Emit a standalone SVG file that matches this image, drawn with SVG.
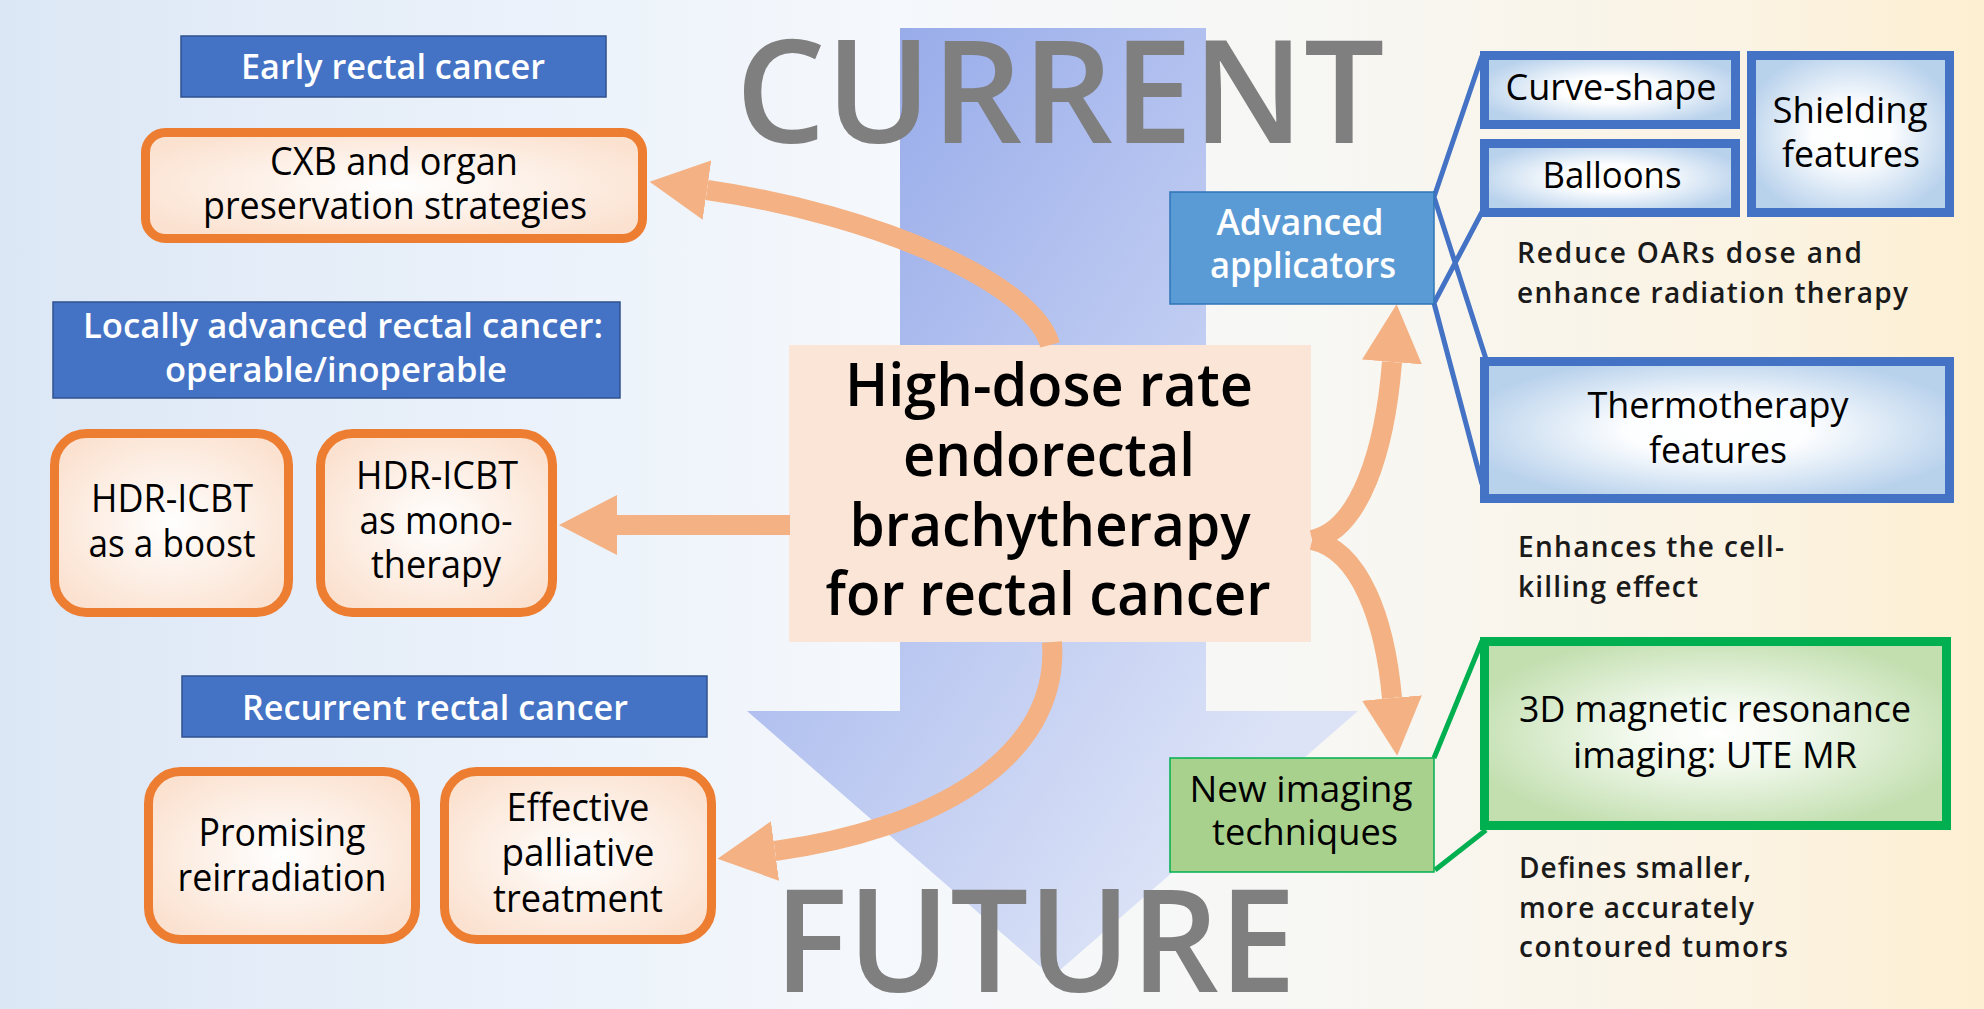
<svg xmlns="http://www.w3.org/2000/svg" width="1984" height="1009" viewBox="0 0 1984 1009">
<defs>
<linearGradient id="bg" x1="0" y1="0" x2="1" y2="0">
<stop offset="0" stop-color="#DCE7F5"/>
<stop offset="0.25" stop-color="#EAF1FA"/>
<stop offset="0.45" stop-color="#F5F8FC"/>
<stop offset="0.66" stop-color="#F7F7F4"/>
<stop offset="0.88" stop-color="#FBF3E3"/>
<stop offset="1" stop-color="#FDEFD1"/>
</linearGradient>
<linearGradient id="bigArrow" gradientUnits="userSpaceOnUse" x1="880" y1="30" x2="1480" y2="430">
<stop offset="0" stop-color="#97ABEA"/>
<stop offset="1" stop-color="#DCE3F7"/>
</linearGradient>
<radialGradient id="orangeFill" cx="0.5" cy="0.5" r="0.6">
<stop offset="0" stop-color="#FFFFFF"/>
<stop offset="1" stop-color="#FBE1CF"/>
</radialGradient>
<radialGradient id="blueFill" cx="0.5" cy="0.5" r="0.55">
<stop offset="0" stop-color="#FFFFFF"/>
<stop offset="0.35" stop-color="#FDFEFF"/>
<stop offset="1" stop-color="#B9D2EC"/>
</radialGradient>
<radialGradient id="greenFill" cx="0.5" cy="0.5" r="0.55">
<stop offset="0" stop-color="#FFFFFF"/>
<stop offset="0.3" stop-color="#F4FAF0"/>
<stop offset="1" stop-color="#C3DFB0"/>
</radialGradient>
<marker id="ah" viewBox="0 0 58 60" refX="0" refY="30" markerWidth="58" markerHeight="60" markerUnits="userSpaceOnUse" orient="auto">
<path d="M0,0 L58,30 L0,60 Z" fill="#F4B183"/>
</marker>
<style>
text{font-family:"Open Sans","Noto Sans","DejaVu Sans",sans-serif;}
.lbl{fill:#4472C4;stroke:#2F528F;stroke-width:1.5;}
.lblt{fill:#FFFFFF;font-size:35px;font-weight:600;text-anchor:middle;}
.obox{fill:url(#orangeFill);stroke:#ED7D31;stroke-width:9;}
.ot{fill:#000;font-size:38px;text-anchor:middle;}
.bbox{fill:url(#blueFill);stroke:#4472C4;stroke-width:9;}
.bt{fill:#000;font-size:37px;text-anchor:middle;}
.gbox{fill:url(#greenFill);stroke:#00B050;stroke-width:9;}
.ct{fill:#000;font-size:60px;font-weight:600;text-anchor:middle;}
.big{fill:#7F7F7F;font-size:144px;font-weight:600;text-anchor:middle;}
.note{fill:#1A1A1A;font-size:28px;font-weight:600;}
.arr{fill:none;stroke:#F4B183;stroke-width:20;marker-end:url(#ah);}
.bl{stroke:#4472C4;stroke-width:5;fill:none;}
.gl{stroke:#00B050;stroke-width:5;fill:none;}
</style>
</defs>

<rect x="0" y="0" width="1984" height="1009" fill="url(#bg)"/>

<g id="timeline">
<polygon points="900,28 1206,28 1206,711 1358,711 1052,977 747,711 900,711" fill="url(#bigArrow)"/>
<text class="big" x="1060" y="143" textLength="649" lengthAdjust="spacingAndGlyphs">CURRENT</text>
<text class="big" x="1035" y="992" textLength="522" lengthAdjust="spacingAndGlyphs">FUTURE</text>
</g>

<g id="center">
<rect x="789" y="345" width="522" height="297" fill="#FBE5D6"/>
<text class="ct" x="1049" y="406" textLength="408" lengthAdjust="spacingAndGlyphs">High-dose rate</text>
<text class="ct" x="1049" y="476" textLength="292" lengthAdjust="spacingAndGlyphs">endorectal</text>
<text class="ct" x="1050" y="546" textLength="401" lengthAdjust="spacingAndGlyphs">brachytherapy</text>
<text class="ct" x="1048" y="615" textLength="445" lengthAdjust="spacingAndGlyphs">for rectal cancer</text>
</g>

<g id="connectors">
<path class="arr" d="M1050,345 C1035,285 880,215 707,190"/>
<path class="arr" d="M790,525 L617,525"/>
<path class="arr" d="M1052,642 C1060,760 930,830 775,851"/>
<path class="arr" d="M1312,540 C1360,530 1385,450 1392,362"/>
<path class="arr" d="M1312,540 C1360,550 1385,620 1392,698"/>
<path class="bl" d="M1434,197 L1482,56 M1434,197 L1486,359 M1434,303 L1482,212 M1434,303 L1482,484"/>
<path class="gl" d="M1434,758 L1482,641 M1435,870 L1486,830"/>
</g>

<g id="early-label">
<rect class="lbl" x="181" y="36" width="425" height="61"/>
<text class="lblt" x="393" y="79" textLength="304" lengthAdjust="spacingAndGlyphs">Early rectal cancer</text>
</g>
<g id="cxb">
<rect class="obox" x="145.5" y="132.5" width="497" height="106" rx="20"/>
<text class="ot" x="394" y="175" textLength="248" lengthAdjust="spacingAndGlyphs">CXB and organ</text>
<text class="ot" x="395" y="219" textLength="384" lengthAdjust="spacingAndGlyphs">preservation strategies</text>
</g>
<g id="locally-label">
<rect class="lbl" x="53" y="302" width="567" height="96"/>
<text class="lblt" x="343" y="338" textLength="520" lengthAdjust="spacingAndGlyphs">Locally advanced rectal cancer:</text>
<text class="lblt" x="336" y="382" textLength="342" lengthAdjust="spacingAndGlyphs">operable/inoperable</text>
</g>
<g id="hdr-boost">
<rect class="obox" x="54.5" y="433.5" width="234" height="179" rx="32"/>
<text class="ot" x="172" y="512" textLength="162" lengthAdjust="spacingAndGlyphs">HDR-ICBT</text>
<text class="ot" x="172" y="557" textLength="167" lengthAdjust="spacingAndGlyphs">as a boost</text>
</g>
<g id="hdr-mono">
<rect class="obox" x="320.5" y="433.5" width="232" height="179" rx="32"/>
<text class="ot" x="437" y="489" textLength="162" lengthAdjust="spacingAndGlyphs">HDR-ICBT</text>
<text class="ot" x="436" y="534" textLength="153" lengthAdjust="spacingAndGlyphs">as mono-</text>
<text class="ot" x="436" y="578" textLength="130" lengthAdjust="spacingAndGlyphs">therapy</text>
</g>
<g id="recurrent-label">
<rect class="lbl" x="182" y="676" width="525" height="61"/>
<text class="lblt" x="435" y="720" textLength="386" lengthAdjust="spacingAndGlyphs">Recurrent rectal cancer</text>
</g>
<g id="promising">
<rect class="obox" x="148.5" y="771.5" width="267" height="168" rx="32"/>
<text class="ot" x="282" y="846" textLength="167" lengthAdjust="spacingAndGlyphs">Promising</text>
<text class="ot" x="282" y="891" textLength="209" lengthAdjust="spacingAndGlyphs">reirradiation</text>
</g>
<g id="palliative">
<rect class="obox" x="444.5" y="771.5" width="267" height="168" rx="32"/>
<text class="ot" x="578" y="821" textLength="143" lengthAdjust="spacingAndGlyphs">Effective</text>
<text class="ot" x="578" y="866" textLength="153" lengthAdjust="spacingAndGlyphs">palliative</text>
<text class="ot" x="578" y="912" textLength="170" lengthAdjust="spacingAndGlyphs">treatment</text>
</g>

<g id="advanced-applicators">
<rect x="1170" y="192" width="264" height="112" fill="#5B9BD5" stroke="#2E75B6" stroke-width="1.5"/>
<text class="lblt" x="1300" y="235" textLength="167" lengthAdjust="spacingAndGlyphs" style="font-size:36px">Advanced</text>
<text class="lblt" x="1303" y="278" textLength="186" lengthAdjust="spacingAndGlyphs" style="font-size:36px">applicators</text>
</g>
<g id="curve-shape">
<rect class="bbox" x="1484.5" y="55.5" width="251" height="69"/>
<text class="bt" x="1611" y="100" textLength="211" lengthAdjust="spacingAndGlyphs">Curve-shape</text>
</g>
<g id="balloons">
<rect class="bbox" x="1484.5" y="143.5" width="251" height="69"/>
<text class="bt" x="1612" y="188" textLength="139" lengthAdjust="spacingAndGlyphs">Balloons</text>
</g>
<g id="shielding">
<rect class="bbox" x="1751.5" y="55.5" width="198" height="157"/>
<text class="bt" x="1850" y="123" textLength="155" lengthAdjust="spacingAndGlyphs">Shielding</text>
<text class="bt" x="1851" y="167" textLength="138" lengthAdjust="spacingAndGlyphs">features</text>
</g>
<g id="note-oars">
<text class="note" x="1517" y="263" textLength="345" lengthAdjust="spacing">Reduce OARs dose and</text>
<text class="note" x="1517" y="303" textLength="391" lengthAdjust="spacing">enhance radiation therapy</text>
</g>
<g id="thermotherapy">
<rect class="bbox" x="1484.5" y="361.5" width="465" height="137"/>
<text class="bt" x="1718" y="418" textLength="261" lengthAdjust="spacingAndGlyphs">Thermotherapy</text>
<text class="bt" x="1718" y="463" textLength="138" lengthAdjust="spacingAndGlyphs">features</text>
</g>
<g id="note-cell">
<text class="note" x="1518" y="557" textLength="266" lengthAdjust="spacing">Enhances the cell-</text>
<text class="note" x="1518" y="597" textLength="180" lengthAdjust="spacing">killing effect</text>
</g>
<g id="new-imaging">
<rect x="1170" y="758" width="264" height="114" fill="#A9D18E" stroke="#00B050" stroke-width="1.5"/>
<text class="bt" x="1301" y="802" textLength="223" lengthAdjust="spacingAndGlyphs" style="font-size:36px">New imaging</text>
<text class="bt" x="1305" y="845" textLength="186" lengthAdjust="spacingAndGlyphs" style="font-size:36px">techniques</text>
</g>
<g id="ute-mr">
<rect class="gbox" x="1484.5" y="641.5" width="462" height="184"/>
<text class="bt" x="1715" y="722" textLength="392" lengthAdjust="spacingAndGlyphs" style="font-size:37px">3D magnetic resonance</text>
<text class="bt" x="1715" y="768" textLength="284" lengthAdjust="spacingAndGlyphs" style="font-size:37px">imaging: UTE MR</text>
</g>
<g id="note-tumors">
<text class="note" x="1519" y="878" textLength="232" lengthAdjust="spacing">Defines smaller,</text>
<text class="note" x="1519" y="918" textLength="235" lengthAdjust="spacing">more accurately</text>
<text class="note" x="1519" y="957" textLength="269" lengthAdjust="spacing">contoured tumors</text>
</g>
</svg>
